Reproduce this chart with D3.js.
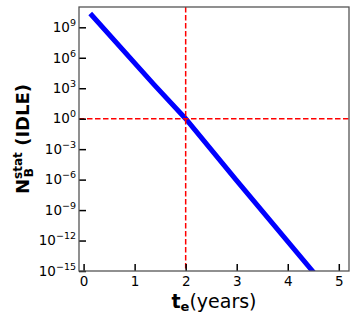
<!DOCTYPE html>
<html>
<head>
<meta charset="utf-8">
<script src="https://cdn.jsdelivr.net/npm/d3@7"></script>
<style>
body { margin: 0; background: #fff; }
svg { font-family: "DejaVu Sans", sans-serif; }
</style>
</head>
<body>
<svg id="chart" width="357" height="320"></svg>
<script>
// t_e (years) vs N_B^stat
const tYears = [0.13, 1.38, 2.0, 3.0, 4.55];
const nStat = [2.3e10, 2.3e3, 1.0, 8.0e-7, 4e-16];

const xTicks = [0, 1, 2, 3, 4, 5];
const yExps = [9, 6, 3, 0, -3, -6, -9, -12, -15];

const refT = 2;
const refN = 1;

function drawChart() {
    const svg = d3.select("#chart");
    const margin = {left: 79, top: 7, right: 349, bottom: 271};

    const x = d3.scaleLinear().domain([-0.09, 5.2]).range([margin.left, margin.right]);
    const y = d3.scaleLog().domain([1e-15, 1e11]).range([margin.bottom, margin.top]);

    svg.append("clipPath").attr("id", "clip")
        .append("rect")
        .attr("x", margin.left).attr("y", margin.top)
        .attr("width", margin.right - margin.left)
        .attr("height", margin.bottom - margin.top);

    const data = tYears.map((t, i) => ({t: t, n: nStat[i]}));

    const line = d3.line()
        .x(d => x(d.t))
        .y(d => y(d.n));

    const plot = svg.append("g").attr("clip-path", "url(#clip)");

    plot.append("path")
        .datum(data)
        .attr("fill", "none")
        .attr("stroke", "#0000ff")
        .attr("stroke-width", 5)
        .attr("d", line);

    // reference lines
    plot.append("line")
        .attr("x1", margin.left).attr("x2", margin.right)
        .attr("y1", y(refN)).attr("y2", y(refN))
        .attr("stroke", "#ff0000").attr("stroke-width", 1.5)
        .attr("stroke-dasharray", "5.5,2.5");
    plot.append("line")
        .attr("x1", x(refT)).attr("x2", x(refT))
        .attr("y1", margin.top).attr("y2", margin.bottom)
        .attr("stroke", "#ff0000").attr("stroke-width", 1.5)
        .attr("stroke-dasharray", "5.5,2.5");

    // x axis
    const xAxis = svg.append("g")
        .attr("transform", `translate(0,${margin.bottom})`)
        .call(d3.axisBottom(x).tickValues(xTicks).tickSize(-7).tickPadding(5).tickFormat(d3.format("d")));
    xAxis.select(".domain").remove();
    xAxis.selectAll("line").attr("stroke", "#000").attr("stroke-width", 1.5);
    xAxis.selectAll("text").attr("font-size", 13.5).attr("fill", "#000")
        .attr("font-family", "DejaVu Sans");

    // y axis
    const yAxis = svg.append("g")
        .attr("transform", `translate(${margin.left},0)`)
        .call(d3.axisLeft(y).tickValues(yExps.map(e => Math.pow(10, e))).tickSize(-7).tickFormat(""));
    yAxis.select(".domain").remove();
    yAxis.selectAll("line").attr("stroke", "#000").attr("stroke-width", 1.5);

    yExps.forEach(e => {
        const txt = svg.append("text")
            .attr("x", margin.left - 3)
            .attr("y", y(Math.pow(10, e)) + 4.8)
            .attr("text-anchor", "end")
            .attr("font-size", 13.5)
            .attr("fill", "#000");
        txt.append("tspan").text("10");
        txt.append("tspan")
            .attr("dy", -6)
            .attr("font-size", 9.5)
            .text(e < 0 ? "\u2212" + Math.abs(e) : e);
    });

    // frame
    svg.append("rect")
        .attr("x", margin.left).attr("y", margin.top)
        .attr("width", margin.right - margin.left)
        .attr("height", margin.bottom - margin.top)
        .attr("fill", "none")
        .attr("stroke", "#555")
        .attr("stroke-width", 1.3);

    // x label
    const xl = svg.append("text")
        .attr("x", (margin.left + margin.right) / 2)
        .attr("y", 308)
        .attr("text-anchor", "middle")
        .attr("font-size", 19)
        .attr("fill", "#000");
    xl.append("tspan").attr("font-weight", "bold").text("t");
    xl.append("tspan").attr("font-weight", "bold").attr("font-size", 13).attr("dy", 3).text("e");
    xl.append("tspan").attr("dy", -3).text("(years)");

    // y label
    const yl = svg.append("text")
        .attr("transform", `translate(29,${(margin.top + margin.bottom) / 2}) rotate(-90)`)
        .attr("text-anchor", "middle")
        .attr("font-size", 18)
        .attr("font-weight", "bold")
        .attr("fill", "#000");
    yl.append("tspan").text("N");
    yl.append("tspan").attr("font-size", 12).attr("dy", -7).text("stat");
    yl.append("tspan").attr("font-size", 12).attr("dx", -25).attr("dy", 11).text("B");
    yl.append("tspan").attr("dx", 16).attr("dy", -4).text(" (IDLE)");
}

drawChart();
</script>
</body>
</html>
